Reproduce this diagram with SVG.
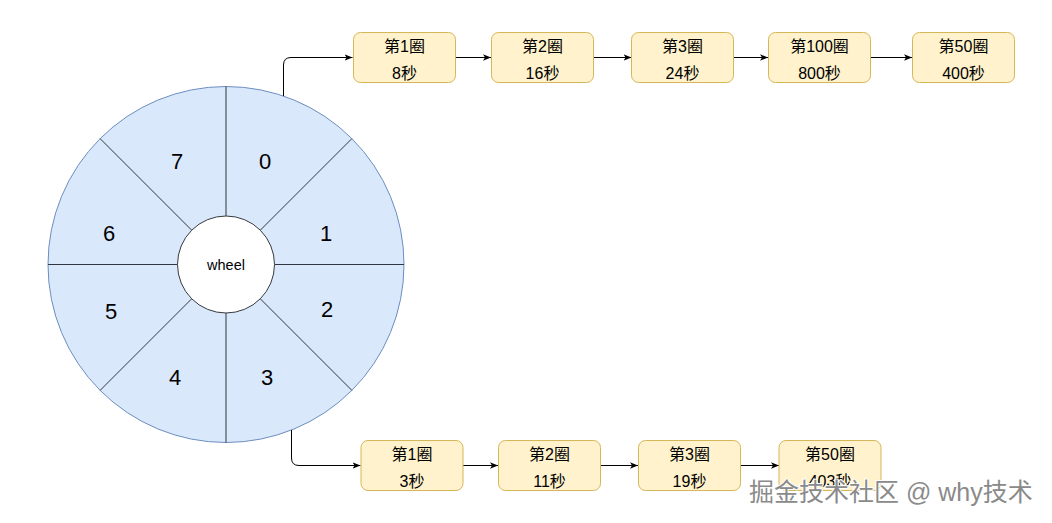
<svg xmlns="http://www.w3.org/2000/svg" width="1052" height="523" viewBox="0 0 1052 523">
<defs>
<marker id="arr" viewBox="0 0 10 10" refX="10" refY="5" markerWidth="8" markerHeight="8" markerUnits="userSpaceOnUse" orient="auto">
<path d="M0,1 L10,5 L0,9 L2.5,5 Z" fill="#000"/>
</marker>
<style>
.box{fill:#fff2cc;stroke:#d6b656;stroke-width:1}
.t{font-family:"Liberation Sans","Noto Sans CJK SC",sans-serif;font-size:16px;fill:#000;text-anchor:middle;dominant-baseline:central}
.n{font-family:"Liberation Sans",Arial,sans-serif;font-size:22px;fill:#000;text-anchor:middle;dominant-baseline:central}
.c{fill:none;stroke:#000;stroke-width:1}
.sp{stroke:#2f3640;stroke-width:1}
</style>
</defs>
<rect width="1052" height="523" fill="#fff"/>
<g id="wheel">
<circle cx="226" cy="264.5" r="178" fill="#dae8fc" stroke="#6c8ebf" stroke-width="1"/>
<line class="sp" x1="226" y1="86.5" x2="226" y2="216"/>
<line class="sp" x1="226" y1="313" x2="226" y2="442.5"/>
<line class="sp" x1="48" y1="264.5" x2="177.5" y2="264.5"/>
<line class="sp" x1="274.5" y1="264.5" x2="404" y2="264.5"/>
<line class="sp" x1="351.9" y1="138.6" x2="260.3" y2="230.2"/>
<line class="sp" x1="191.7" y1="298.8" x2="100.1" y2="390.4"/>
<line class="sp" x1="100.1" y1="138.6" x2="191.7" y2="230.2"/>
<line class="sp" x1="260.3" y1="298.8" x2="351.9" y2="390.4"/>
<circle cx="226" cy="264.5" r="48.5" fill="#fff" stroke="#36393d" stroke-width="1"/>
<text class="t" x="226" y="265" style="font-size:14.5px">wheel</text>
<text class="n" x="265" y="161">0</text>
<text class="n" x="326" y="233">1</text>
<text class="n" x="327" y="309">2</text>
<text class="n" x="267" y="377">3</text>
<text class="n" x="175" y="377">4</text>
<text class="n" x="111" y="311">5</text>
<text class="n" x="109" y="233">6</text>
<text class="n" x="177" y="161">7</text>
</g>
<g id="connectors">
<path class="c" d="M283.5 96 V65 Q283.5 57.5 291 57.5 H352.5" marker-end="url(#arr)"/>
<path class="c" d="M455.5 57.5 H491" marker-end="url(#arr)"/>
<path class="c" d="M593.5 57.5 H631.5" marker-end="url(#arr)"/>
<path class="c" d="M733.5 57.5 H768" marker-end="url(#arr)"/>
<path class="c" d="M870 57.5 H912" marker-end="url(#arr)"/>
<path class="c" d="M291.5 430 V458 Q291.5 465.5 299 465.5 H360.5" marker-end="url(#arr)"/>
<path class="c" d="M463 465.5 H498" marker-end="url(#arr)"/>
<path class="c" d="M600 465.5 H638" marker-end="url(#arr)"/>
<path class="c" d="M740 465.5 H779" marker-end="url(#arr)"/>
</g>
<g id="top1"><rect class="box" x="353.5" y="32.5" width="102" height="50" rx="7"/><text class="t" x="404.5" y="46.5">第1圈</text><text class="t" x="404.5" y="73">8秒</text></g>
<g id="top2"><rect class="box" x="491.5" y="32.5" width="102" height="50" rx="7"/><text class="t" x="542.5" y="46.5">第2圈</text><text class="t" x="542.5" y="73">16秒</text></g>
<g id="top3"><rect class="box" x="631.5" y="32.5" width="102" height="50" rx="7"/><text class="t" x="682.5" y="46.5">第3圈</text><text class="t" x="682.5" y="73">24秒</text></g>
<g id="top4"><rect class="box" x="768.5" y="32.5" width="102" height="50" rx="7"/><text class="t" x="819.5" y="46.5">第100圈</text><text class="t" x="819.5" y="73">800秒</text></g>
<g id="top5"><rect class="box" x="912.5" y="32.5" width="102" height="50" rx="7"/><text class="t" x="963.5" y="46.5">第50圈</text><text class="t" x="963.5" y="73">400秒</text></g>
<g id="bot1"><rect class="box" x="361" y="440.5" width="102" height="50" rx="7"/><text class="t" x="412" y="454.5">第1圈</text><text class="t" x="412" y="481.5">3秒</text></g>
<g id="bot2"><rect class="box" x="498.5" y="440.5" width="102" height="50" rx="7"/><text class="t" x="549.5" y="454.5">第2圈</text><text class="t" x="549.5" y="481.5">11秒</text></g>
<g id="bot3"><rect class="box" x="638.5" y="440.5" width="102" height="50" rx="7"/><text class="t" x="689.5" y="454.5">第3圈</text><text class="t" x="689.5" y="481.5">19秒</text></g>
<g id="bot4"><rect class="box" x="779" y="440.5" width="102" height="50" rx="7"/><text class="t" x="830" y="454.5">第50圈</text><text class="t" x="830" y="481.5">403秒</text></g>
<text x="749" y="501" style="font-family:'Liberation Sans','Noto Sans CJK SC',sans-serif;font-size:25px;fill:#8a8a8a;stroke:#ffffff;stroke-width:2;paint-order:stroke">掘金技术社区 @ why技术</text>
</svg>
